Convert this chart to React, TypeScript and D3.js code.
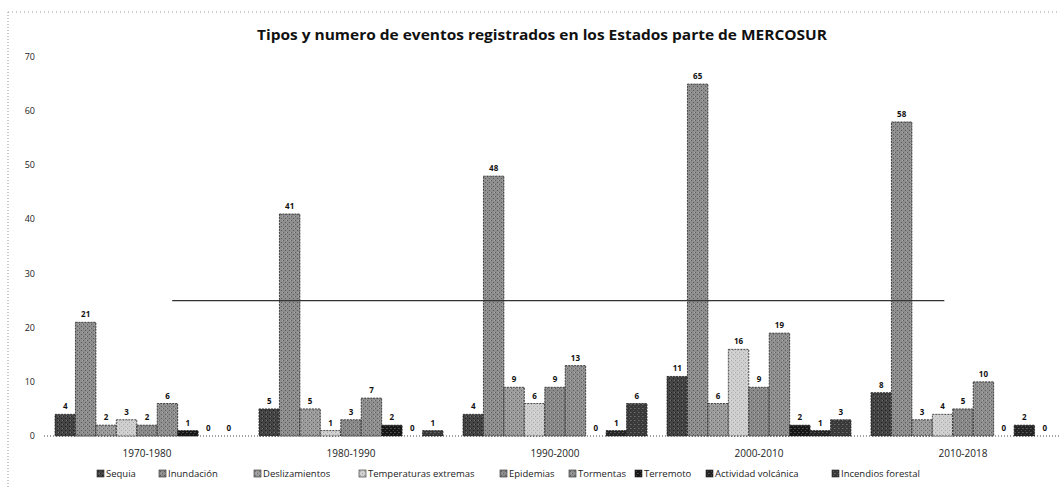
import * as d3 from "d3";

const periods = ["1970-1980", "1980-1990", "1990-2000", "2000-2010", "2010-2018"];

const eventTypes = [
  "Sequia",
  "Inundación",
  "Deslizamientos",
  "Temperaturas extremas",
  "Epidemias",
  "Tormentas",
  "Terremoto",
  "Actividad volcánica",
  "Incendios forestal",
];

// one array per period, in the order of eventTypes
const values1970 = [4, 21, 2, 3, 2, 6, 1, 0, 0];
const values1980 = [5, 41, 5, 1, 3, 7, 2, 0, 1];
const values1990 = [4, 48, 9, 6, 9, 13, 0, 1, 6];
const values2000 = [11, 65, 6, 16, 9, 19, 2, 1, 3];
const values2010 = [8, 58, 3, 4, 5, 10, 0, 2, 0];

const yTicks = [0, 10, 20, 30, 40, 50, 60, 70];
const refValue = 25;

const allValues = [values1970, values1980, values1990, values2000, values2010];

const fills = ["#454545", "#8e8e8e", "#9c9c9c", "#cfcfcf", "#8a8a8a", "#8f8f8f", "#161616", "#242424", "#393939"];
const dots = ["#222", "#5a5a5a", "#6a6a6a", "#a8a8a8", "#5e5e5e", "#606060", "#444", "#4a4a4a", "#5a5a5a"];
const legendX = [100, 162, 257, 362, 503, 572, 638, 709, 835];

const W = 1062;
const H = 488;

export default function App() {
  const y = d3.scaleLinear().domain([0, 70]).range([436, 57]);

  // bar groups
  const x0 = d3.scaleBand().domain(periods).range([55, 1055]).paddingInner(0.098).paddingOuter(0);
  const x1 = d3.scaleBand().domain(eventTypes).range([0, x0.bandwidth()]);

  const rows = periods.map((p, i) => ({ period: p, values: allValues[i] }));

  // the stray horizontal line runs from group 1 (Tormentas) to group 5 (Temperaturas)
  const refX1 = x0(periods[0])! + x1(eventTypes[5])! + 15;
  const refX2 = x0(periods[4])! + x1(eventTypes[3])! + 12;

  return (
    <svg width={W} height={H} style={{ position: "absolute", left: 0, top: 0, background: "#fff" }}>
      <defs>
        {eventTypes.map((t, i) => (
          <pattern key={t} id={`pat${i}`} width={4} height={4} patternUnits="userSpaceOnUse">
            <rect width={4} height={4} fill={fills[i]} />
            <rect x={0} y={0} width={1} height={1} fill={dots[i]} />
            <rect x={2} y={2} width={1} height={1} fill={dots[i]} />
            <rect x={3} y={0} width={1} height={1} fill="#fff" opacity={0.25} />
          </pattern>
        ))}
      </defs>

      {/* frame */}
      <line x1={8} x2={1060} y1={12} y2={12} stroke="#999" strokeDasharray="1,3" />
      <line x1={8} x2={8} y1={12} y2={488} stroke="#999" strokeDasharray="1,2" />

      <text
        x={542}
        y={40}
        textAnchor="middle"
        fontFamily="Open Sans"
        fontWeight="bold"
        fontSize={14}
        fill="#111"
        textLength={570}
        lengthAdjust="spacingAndGlyphs"
      >
        Tipos y numero de eventos registrados en los Estados parte de MERCOSUR
      </text>

      {/* y axis labels */}
      {yTicks.map((t) => (
        <text key={t} x={35} y={y(t) + 3} textAnchor="end" fontFamily="Open Sans" fontSize={9} fill="#222">
          {t}
        </text>
      ))}

      {/* baseline */}
      <line x1={44} x2={1060} y1={y(0)} y2={y(0)} stroke="#444" strokeDasharray="1,2" />

      {rows.map((r) => (
        <g key={r.period} transform={`translate(${x0(r.period)},0)`}>
          {r.values.map((v, i) => (
            <g key={i}>
              {v > 0 && (
                <rect
                  x={x1(eventTypes[i])}
                  y={y(v)}
                  width={x1.bandwidth()}
                  height={y(0) - y(v)}
                  fill={`url(#pat${i})`}
                  stroke="#222"
                  strokeWidth={0.8}
                  strokeDasharray="2,1"
                />
              )}
              <text
                x={x1(eventTypes[i])! + x1.bandwidth() / 2}
                y={y(v) - 5}
                textAnchor="middle"
                fontFamily="Open Sans"
                fontWeight="bold"
                fontSize={8}
                fill="#111"
              >
                {v}
              </text>
            </g>
          ))}
        </g>
      ))}

      {/* reference line */}
      <line x1={refX1} x2={refX2} y1={y(refValue)} y2={y(refValue)} stroke="#333" strokeWidth={1.2} />

      {/* category labels */}
      {periods.map((p) => (
        <text
          key={p}
          x={x0(p)! + x0.bandwidth() / 2}
          y={457}
          textAnchor="middle"
          fontFamily="Open Sans"
          fontSize={10}
          fill="#222"
        >
          {p}
        </text>
      ))}

      {/* legend */}
      {eventTypes.map((t, i) => (
        <g key={t} transform={`translate(${legendX[i]},477)`}>
          <rect x={-3} y={-7} width={7} height={7} fill={`url(#pat${i})`} stroke="#222" strokeWidth={0.6} />
          <text x={6} y={0} fontFamily="Open Sans" fontSize={9.5} fill="#222">
            {t}
          </text>
        </g>
      ))}
    </svg>
  );
}
